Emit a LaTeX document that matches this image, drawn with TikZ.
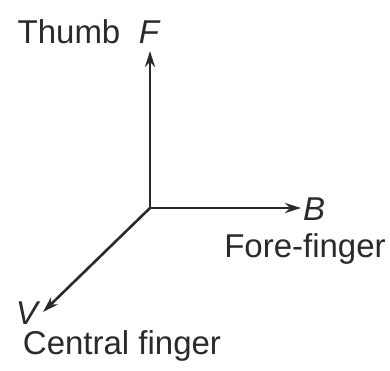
\documentclass[tikz,border=0pt]{standalone}
\usepackage{fontspec}
\setmainfont{Liberation Sans}
\usetikzlibrary{arrows.meta}
\definecolor{ink}{HTML}{2A2A2A}
\begin{document}
\begin{tikzpicture}[x=1pt,y=-1pt,
  axis/.style={line width=2.6pt,draw=ink,-{Stealth[length=16pt,width=10pt]}},
  lbl/.style={inner sep=0pt,anchor=base,text=ink,font=\fontsize{33}{33}\selectfont}]
\useasboundingbox (0,0) rectangle (390,370);
\coordinate (O) at (150,208);
\coordinate (Ft) at (150,51);
\coordinate (Bt) at (301,208);
\coordinate (Vt) at (43,312);
\draw[axis] (O) -- (Ft);
\draw[axis] (O) -- (Bt);
\draw[axis] (O) -- (Vt);
\node[lbl] (thumb) at (69,43) {Thumb};
\node[lbl] (F) at (149,43) {\itshape F};
\node[lbl] (B) at (314,220) {\itshape B};
\node[lbl] (fore) at (305,257) {Fore-finger};
\node[lbl] (V) at (27,324) {\itshape V};
\node[lbl] (central) at (122,354) {Central finger};
\end{tikzpicture}
\end{document}
